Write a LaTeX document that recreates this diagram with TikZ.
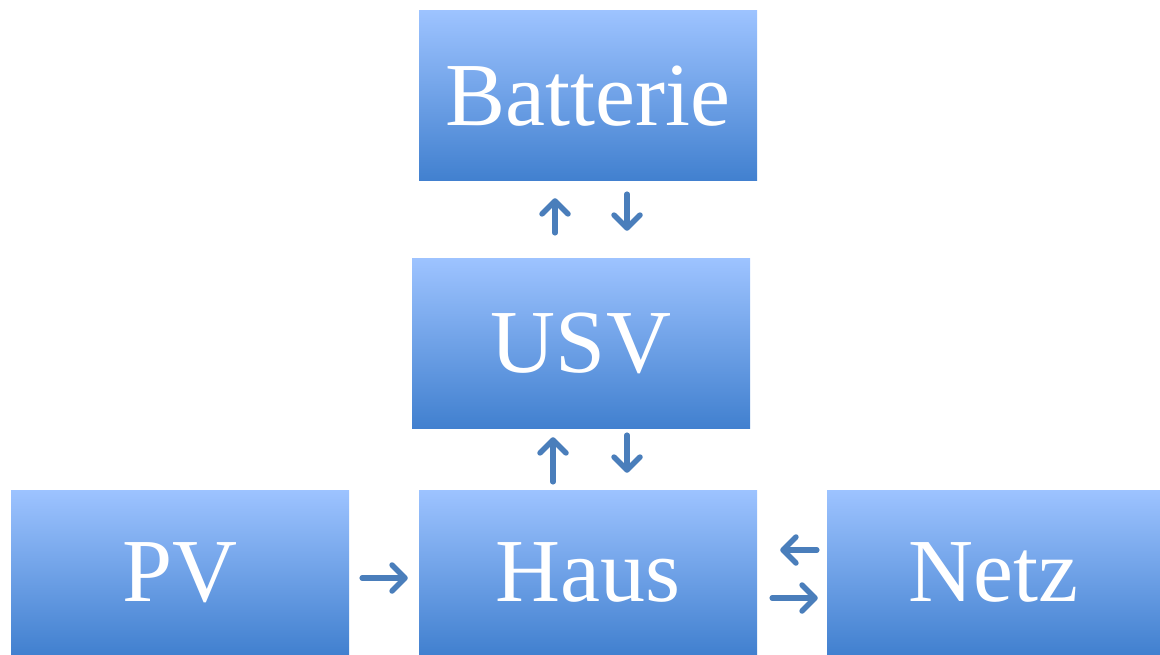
\documentclass[tikz,border=0pt]{standalone}
\usepackage{fontspec}
\setmainfont{Liberation Serif}
\usetikzlibrary{arrows.meta}
\definecolor{boxtop}{HTML}{9DC3FF}
\definecolor{boxbot}{HTML}{4180CF}
\definecolor{arrowblue}{HTML}{4A7EBB}
\tikzset{
  block/.style={rectangle, inner sep=0pt, top color=boxtop, bottom color=boxbot,
    text=white, font=\fontsize{90}{90}\selectfont},
  flow/.style={line width=5.5pt, draw=arrowblue, line cap=round,
    -{Straight Barb[length=13pt, width=26pt, line cap=round, line join=round]}}
}
\begin{document}
\begin{tikzpicture}[x=1pt, y=-1pt]
  \useasboundingbox (0,0) rectangle (1160,655);
  % boxes, pixel positions of the reference
  \node[block, minimum width=338pt, minimum height=170pt] (batterie) at (588,96) {Batterie};
  \node[block, minimum width=338pt, minimum height=169pt] (usv) at (581,343.5) {USV};
  \node[block, minimum width=338pt, minimum height=165pt] (pv) at (180,572.5) {PV};
  \node[block, minimum width=338pt, minimum height=165pt] (haus) at (588,572.5) {Haus};
  \node[block, minimum width=333pt, minimum height=165pt] (netz) at (993.5,572.5) {Netz};
  % Batterie <-> USV
  \draw[flow, shorten <=26pt, shorten >=17pt] ([xshift=-26pt]usv.north) -- ([xshift=-33pt]batterie.south);
  \draw[flow, shorten <=13pt, shorten >=28pt] ([xshift=39pt]batterie.south) -- ([xshift=46pt]usv.north);
  % USV <-> Haus
  \draw[flow, shorten <=8pt, shorten >=9pt] ([xshift=-35pt]haus.north) -- ([xshift=-28pt]usv.south);
  \draw[flow, shorten <=7pt, shorten >=17pt] ([xshift=46pt]usv.south) -- ([xshift=39pt]haus.north);
  % PV -> Haus
  \draw[flow, shorten <=13pt, shorten >=11pt] ([yshift=-5.5pt]pv.east) -- ([yshift=-5.5pt]haus.west);
  % Netz <-> Haus
  \draw[flow, shorten <=10pt, shorten >=23pt] ([yshift=22.5pt]netz.west) -- ([yshift=22.5pt]haus.east);
  \draw[flow, shorten <=15pt, shorten >=9pt] ([yshift=-25.5pt]haus.east) -- ([yshift=-25.5pt]netz.west);
\end{tikzpicture}
\end{document}
